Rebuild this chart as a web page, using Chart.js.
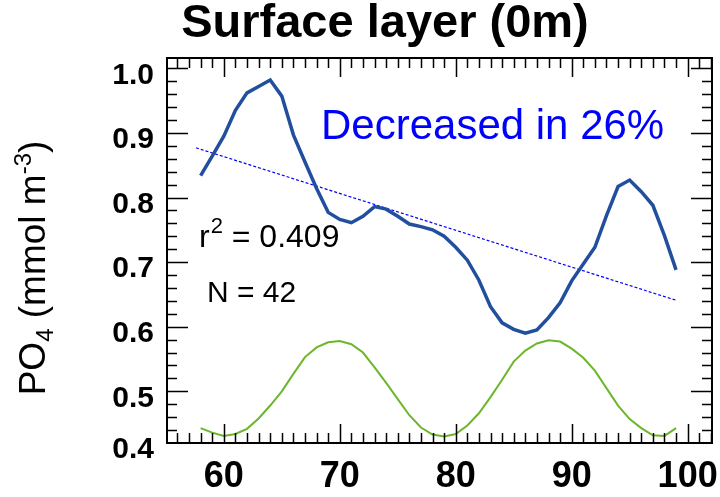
<!DOCTYPE html>
<html>
<head>
<meta charset="utf-8">
<script src="https://cdn.jsdelivr.net/npm/chart.js@4.4.1/dist/chart.umd.min.js"></script>
<style>
  body { margin: 0; background: #fff; }
  canvas { display: block; }
</style>
</head>
<body>
<canvas id="chart" width="720" height="497"></canvas>
<script>
// --- data ---
const years = [58, 59, 60, 61, 62, 63, 64, 65, 66, 67, 68, 69, 70, 71, 72, 73, 74, 75, 76, 77, 78,
               79, 80, 81, 82, 83, 84, 85, 86, 87, 88, 89, 90, 91, 92, 93, 94, 95, 96, 97, 98, 99];
const po4 = [0.834, 0.864, 0.895, 0.935, 0.962, 0.972, 0.982, 0.957, 0.897, 0.855, 0.814,
             0.777, 0.766, 0.761, 0.771, 0.786, 0.782, 0.771, 0.759, 0.755, 0.750,
             0.740, 0.723, 0.703, 0.672, 0.631, 0.606, 0.596, 0.590, 0.595, 0.614,
             0.637, 0.671, 0.697, 0.723, 0.772, 0.817, 0.827, 0.809, 0.788, 0.741, 0.688];
const nodalCycle = [0.443, 0.436, 0.431, 0.434, 0.442, 0.458, 0.478, 0.500, 0.527, 0.553, 0.568,
                    0.576, 0.578, 0.573, 0.560, 0.537, 0.513, 0.488, 0.463, 0.444, 0.433,
                    0.430, 0.434, 0.447, 0.466, 0.491, 0.518, 0.546, 0.563, 0.574, 0.579,
                    0.577, 0.566, 0.552, 0.532, 0.505, 0.478, 0.457, 0.443, 0.432, 0.431, 0.443];
const trendX = [57.6, 99];
const trendY = [0.877, 0.641];

const xTickValues = [60, 70, 80, 90, 100];
const yTickValues = [0.4, 0.5, 0.6, 0.7, 0.8, 0.9, 1.0];
const yTickLabels = ['0.4', '0.5', '0.6', '0.7', '0.8', '0.9', '1.0'];

const FONT = '"Liberation Sans", Arial, Helvetica, sans-serif';

const toPoints = (xs, ys) => xs.map((x, i) => ({ x: x, y: ys[i] }));

// box with inward ticks on all four sides + text labels
const framePlugin = {
    id: 'frame',
    afterDatasetsDraw(chart) {
        const { ctx, chartArea: a, scales } = chart;
        const xs = scales.x, ys = scales.y;
        ctx.save();
        ctx.strokeStyle = '#000';
        ctx.lineWidth = 1.5;
        ctx.beginPath();
        for (let v = Math.ceil(xs.min); v <= xs.max; v++) {
            const px = Math.round(xs.getPixelForValue(v)) + 0.5;
            const len = v % 10 === 0 ? 19 : 10;
            ctx.moveTo(px, a.bottom); ctx.lineTo(px, a.bottom - len);
            ctx.moveTo(px, a.top); ctx.lineTo(px, a.top + len);
        }
        for (let i = 22; i <= 50; i++) {
            const py = Math.round(ys.getPixelForValue(i / 50)) + 0.5;
            const len = i % 5 === 0 ? 21 : 10;
            ctx.moveTo(a.left, py); ctx.lineTo(a.left + len, py);
            ctx.moveTo(a.right, py); ctx.lineTo(a.right - len, py);
        }
        ctx.stroke();
        ctx.lineWidth = 2;
        ctx.strokeRect(a.left, a.top, a.right - a.left, a.bottom - a.top);
        ctx.restore();
    },
    afterDraw(chart) {
        const ctx = chart.ctx;
        ctx.save();
        ctx.fillStyle = '#000';
        ctx.textBaseline = 'alphabetic';

        // title
        ctx.font = 'bold 47px ' + FONT;
        ctx.textAlign = 'center';
        ctx.fillText('Surface layer (0m)', 385, 37);

        // annotations
        ctx.textAlign = 'left';
        ctx.fillStyle = '#0000ff';
        ctx.font = '42px ' + FONT;
        ctx.fillText('Decreased in 26%', 321, 139);

        ctx.fillStyle = '#000';
        ctx.font = '32px ' + FONT;
        ctx.fillText('r', 199, 247);
        let w = ctx.measureText('r').width;
        ctx.font = '22px ' + FONT;
        ctx.fillText('2', 199 + w + 1, 233);
        const w2 = ctx.measureText('2').width;
        ctx.font = '32px ' + FONT;
        ctx.fillText(' = 0.409', 199 + w + w2 + 1, 247);

        ctx.font = '30px ' + FONT;
        ctx.fillText('N = 42', 207, 302);

        // y axis title with sub/superscript
        const parts = [
            { t: 'PO', size: 37, dy: 0 },
            { t: '4', size: 24, dy: 8 },
            { t: ' (mmol m', size: 37, dy: 0 },
            { t: '-3', size: 24, dy: -14 },
            { t: ')', size: 37, dy: 0 }
        ];
        let total = 0;
        parts.forEach(p => { ctx.font = p.size + 'px ' + FONT; p.w = ctx.measureText(p.t).width; total += p.w; });
        ctx.translate(45, 268);
        ctx.rotate(-Math.PI / 2);
        let cx = -total / 2;
        parts.forEach(p => {
            ctx.font = p.size + 'px ' + FONT;
            ctx.fillText(p.t, cx, p.dy);
            cx += p.w;
        });
        ctx.restore();
    }
};

new Chart(document.getElementById('chart'), {
    type: 'line',
    data: {
        datasets: [
            {
                data: toPoints(years, po4),
                borderColor: '#214f9e',
                borderWidth: 3.5,
                pointRadius: 0,
                tension: 0,
                order: 1
            },
            {
                data: toPoints(trendX, trendY),
                borderColor: '#0000ff',
                borderWidth: 1.2,
                borderDash: [3, 2],
                pointRadius: 0,
                order: 2
            },
            {
                data: toPoints(years, nodalCycle),
                borderColor: '#6cb62c',
                borderWidth: 2,
                pointRadius: 0,
                tension: 0,
                order: 3
            }
        ]
    },
    options: {
        responsive: false,
        animation: false,
        devicePixelRatio: 1,
        layout: { padding: { left: 0, top: 58, right: 8, bottom: 0 } },
        plugins: { legend: { display: false }, tooltip: { enabled: false } },
        scales: {
            x: {
                type: 'linear',
                min: 55.1,
                max: 102.1,
                grid: { display: false, drawTicks: false },
                border: { display: false },
                afterBuildTicks: scale => { scale.ticks = xTickValues.map(v => ({ value: v })); },
                afterFit: scale => {
                    scale.height = 54;
                    scale.paddingLeft = 0;
                    scale.paddingRight = 0;
                },
                ticks: {
                    autoSkip: false,
                    maxRotation: 0,
                    padding: 12,
                    color: '#000',
                    font: { family: FONT, size: 36, weight: 'bold' },
                    callback: v => String(v)
                }
            },
            y: {
                type: 'linear',
                min: 0.42,
                max: 1.016,
                grid: { display: false, drawTicks: false },
                border: { display: false },
                // the bottom label sits on the axis edge as in the figure
                afterBuildTicks: scale => {
                    scale.ticks = yTickValues.map(v => ({ value: Math.max(v, scale.min) }));
                },
                afterFit: scale => {
                    scale.width = 167;
                    scale.paddingTop = 0;
                    scale.paddingBottom = 0;
                },
                ticks: {
                    autoSkip: false,
                    padding: 13,
                    labelOffset: 7,
                    color: '#000',
                    font: { family: FONT, size: 30, weight: 'bold' },
                    callback: (v, i) => yTickLabels[i]
                }
            }
        }
    },
    plugins: [framePlugin]
});
</script>
</body>
</html>
